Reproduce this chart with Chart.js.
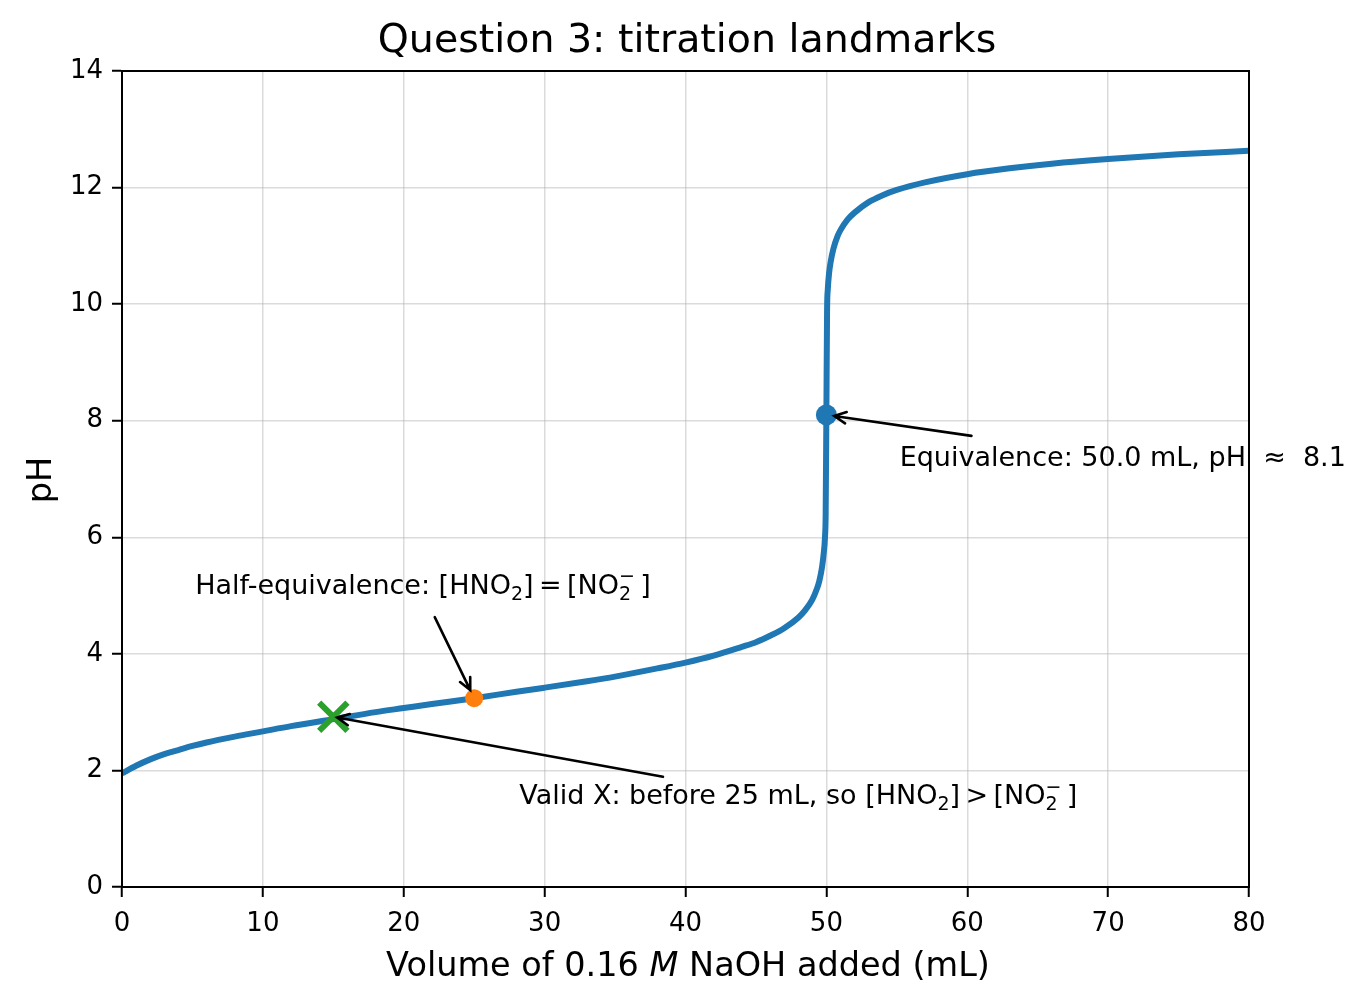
<!DOCTYPE html>
<html>
<head>
<meta charset="utf-8">
<script src="https://cdn.jsdelivr.net/npm/chart.js@4.4.1/dist/chart.umd.min.js"></script>
<style>
  html, body { margin: 0; padding: 0; background: #fff; }
  canvas { display: block; }
</style>
</head>
<body>
<canvas id="chart" width="1367" height="1006"></canvas>
<script>
// titration curve
const volumes = [0, 1, 2, 3, 4, 5, 6, 8, 10, 12, 15, 18, 20, 22, 25, 28, 30, 33, 35, 38, 40, 42, 44, 45, 46, 47, 48, 48.5, 49, 49.3, 49.5, 49.7, 49.8, 49.9, 49.95, 50, 50.05, 50.1, 50.2, 50.3, 50.5, 50.8, 51, 51.5, 52, 53, 54, 55, 57, 60, 63, 66, 70, 75, 80];
const phValues = [1.95, 2.08, 2.19, 2.28, 2.35, 2.42, 2.48, 2.58, 2.67, 2.76, 2.88, 3.0, 3.07, 3.14, 3.24, 3.35, 3.42, 3.53, 3.61, 3.75, 3.85, 3.97, 4.12, 4.2, 4.31, 4.44, 4.62, 4.75, 4.93, 5.1, 5.25, 5.5, 5.7, 6.0, 6.4, 8.1, 9.9, 10.25, 10.55, 10.72, 10.95, 11.17, 11.27, 11.45, 11.57, 11.75, 11.87, 11.96, 12.09, 12.23, 12.33, 12.41, 12.49, 12.57, 12.63];

// landmarks
const validX = { x: 15, y: 2.92 };
const halfEq = { x: 25, y: 3.24 };
const equiv = { x: 50, y: 8.1 };

const xTicks = [0, 10, 20, 30, 40, 50, 60, 70, 80];
const yTicks = [0, 2, 4, 6, 8, 10, 12, 14];

const TS = "\u2009"; // thin space, mathtext-like spacing

// annotations: text anchor (left, middle) and arrow tail in data units
const notes = [
    { parts: [{ t: "Half-equivalence: [HNO" }, { sub: "2" }, { t: "]" + TS + "=" + TS + "[NO" }, { sub: "2", sup: "−" }, { t: TS + "]" }],
      text: { x: 5.2, y: 5.15 }, tail: { x: 22.2, y: 4.63 }, head: halfEq, shrink: 9 },
    { parts: [{ t: "Valid X: before 25 mL, so [HNO" }, { sub: "2" }, { t: "]" + TS + ">" + TS + "[NO" }, { sub: "2", sup: "−" }, { t: TS + "]" }],
      text: { x: 28.2, y: 1.54 }, tail: { x: 38.4, y: 1.89 }, head: validX, shrink: 4 },
    { parts: [{ t: "Equivalence: 50.0 mL, pH  ≈  8.1" }],
      text: { x: 55.2, y: 7.34 }, tail: { x: 60.3, y: 7.74 }, head: equiv, shrink: 8 },
];

const FONT = "'DejaVu Sans', sans-serif";

function drawRich(ctx, x, y, parts, size) {
    ctx.textBaseline = "middle";
    ctx.textAlign = "left";
    let cx = x;
    const small = Math.round(size * 0.7);
    parts.forEach(p => {
        if (p.t) {
            ctx.font = `${size}px ${FONT}`;
            ctx.fillText(p.t, cx, y);
            cx += ctx.measureText(p.t).width;
        } else {
            ctx.font = `${small}px ${FONT}`;
            let w = 0;
            if (p.sub) {
                ctx.fillText(p.sub, cx, y + size * 0.3);
                w = ctx.measureText(p.sub).width;
            }
            if (p.sup) {
                ctx.fillText(p.sup, cx, y - size * 0.35);
                w = Math.max(w, ctx.measureText(p.sup).width);
            }
            cx += w;
        }
    });
}

function arrow(ctx, x0, y0, x1, y1, shrink) {
    const a = Math.atan2(y1 - y0, x1 - x0);
    const ex = x1 - Math.cos(a) * shrink;
    const ey = y1 - Math.sin(a) * shrink;
    ctx.save();
    ctx.strokeStyle = "#000";
    ctx.lineWidth = 2.6;
    ctx.lineCap = "round";
    ctx.beginPath();
    ctx.moveTo(x0, y0);
    ctx.lineTo(ex, ey);
    const hl = 13, ha = 0.45;
    ctx.moveTo(ex - hl * Math.cos(a - ha), ey - hl * Math.sin(a - ha));
    ctx.lineTo(ex, ey);
    ctx.lineTo(ex - hl * Math.cos(a + ha), ey - hl * Math.sin(a + ha));
    ctx.stroke();
    ctx.restore();
}

const decorations = {
    id: "decorations",
    afterDatasetsDraw(chart) {
        const { ctx, scales: { x, y } } = chart;
        ctx.save();
        ctx.fillStyle = "#000";
        notes.forEach(n => {
            arrow(ctx, x.getPixelForValue(n.tail.x), y.getPixelForValue(n.tail.y),
                x.getPixelForValue(n.head.x), y.getPixelForValue(n.head.y), n.shrink);
            drawRich(ctx, x.getPixelForValue(n.text.x), y.getPixelForValue(n.text.y), n.parts, 27);
        });
        ctx.restore();
    },
    afterDraw(chart) {
        const { ctx, chartArea: a } = chart;
        ctx.save();
        // frame
        ctx.strokeStyle = "#000";
        ctx.lineWidth = 2;
        ctx.strokeRect(a.left, a.top, a.right - a.left, a.bottom - a.top);
        ctx.fillStyle = "#000";
        // title
        ctx.font = `39.5px ${FONT}`;
        ctx.textAlign = "center";
        ctx.textBaseline = "middle";
        ctx.fillText("Question 3: titration landmarks", 687, 42);
        // x label, with italic M
        const size = 33.5;
        const pieces = [["Volume of 0.16 ", ""], ["M", "italic "], [" NaOH added (mL)", ""]];
        let total = 0;
        pieces.forEach(([t, st]) => { ctx.font = `${st}${size}px ${FONT}`; total += ctx.measureText(t).width; });
        let cx = 688 - total / 2;
        ctx.textAlign = "left";
        pieces.forEach(([t, st]) => {
            ctx.font = `${st}${size}px ${FONT}`;
            ctx.fillText(t, cx, 967);
            cx += ctx.measureText(t).width;
        });
        // y label
        ctx.translate(42, 480);
        ctx.rotate(-Math.PI / 2);
        ctx.textAlign = "center";
        ctx.font = `${size}px ${FONT}`;
        ctx.fillText("pH", 0, 0);
        ctx.restore();
    }
};

const gridStyle = {
    color: "rgba(176,176,176,0.45)",
    lineWidth: 1.5,
    tickColor: "#000",
    tickWidth: 2,
    tickLength: 10,
};

new Chart(document.getElementById("chart").getContext("2d"), {
    type: "scatter",
    data: {
        datasets: [
            {
                type: "line",
                data: volumes.map((v, i) => ({ x: v, y: phValues[i] })),
                borderColor: "#1f77b4",
                borderWidth: 6,
                pointRadius: 0,
                cubicInterpolationMode: "monotone",
                order: 2,
            },
            {
                data: [validX],
                pointStyle: "crossRot",
                pointRadius: 20,
                borderWidth: 6,
                borderColor: "#2ca02c",
                order: 1,
            },
            {
                data: [halfEq],
                pointRadius: 9,
                backgroundColor: "#ff7f0e",
                borderColor: "#ff7f0e",
                borderWidth: 0,
                order: 1,
            },
            {
                data: [equiv],
                pointRadius: 10.5,
                backgroundColor: "#1f77b4",
                borderColor: "#1f77b4",
                borderWidth: 0,
                order: 1,
            },
        ],
    },
    options: {
        responsive: false,
        animation: false,
        devicePixelRatio: 1,
        layout: { padding: { top: 71, right: 118, left: 0, bottom: 0 } },
        plugins: { legend: { display: false }, tooltip: { enabled: false }, title: { display: false } },
        scales: {
            x: {
                type: "linear", min: 0, max: 80,
                afterFit: s => { s.height = 119; },
                afterBuildTicks: s => { s.ticks = xTicks.map(v => ({ value: v })); },
                ticks: { color: "#000", font: { family: FONT, size: 26 }, padding: 12, maxRotation: 0 },
                grid: gridStyle,
                border: { color: "#000", width: 2 },
            },
            y: {
                type: "linear", min: 0, max: 14,
                afterFit: s => { s.width = 122; },
                afterBuildTicks: s => { s.ticks = yTicks.map(v => ({ value: v })); },
                ticks: { color: "#000", font: { family: FONT, size: 26 }, padding: 9 },
                grid: gridStyle,
                border: { color: "#000", width: 2 },
            },
        },
    },
    plugins: [decorations],
});
</script>
</body>
</html>
